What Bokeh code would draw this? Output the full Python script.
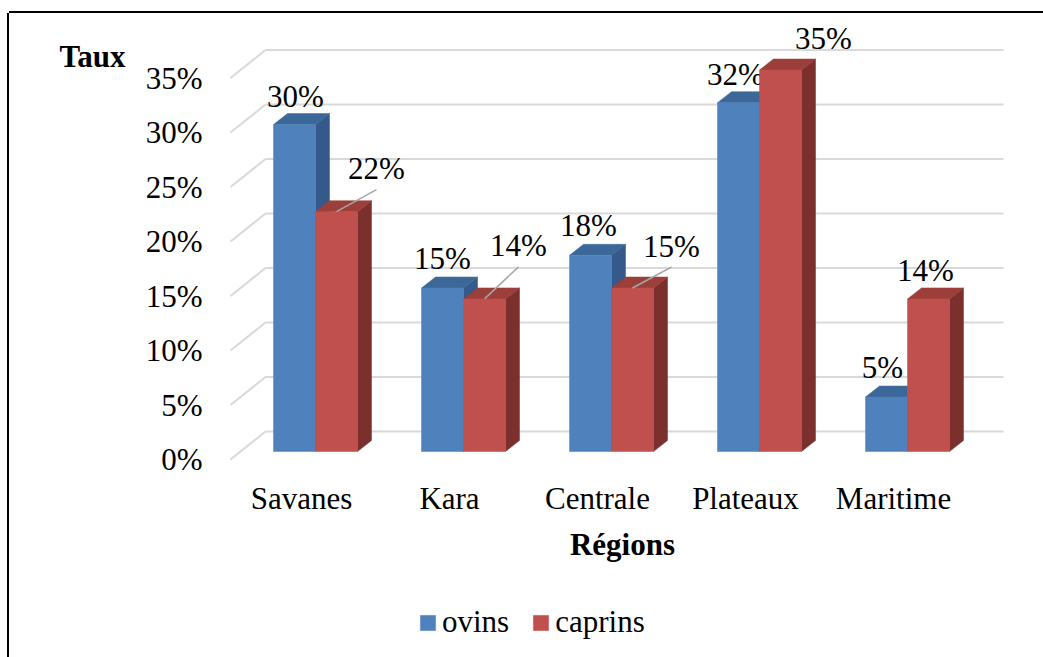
from bokeh.plotting import figure
from bokeh.models import (Range1d, FixedTicker, PrintfTickFormatter, LinearAxis,
                          Legend, LegendItem)
from bokeh.core.properties import value
from bokeh.embed import file_html
from bokeh.resources import INLINE

# ---------------- data ----------------
categories = ["Savanes", "Kara", "Centrale", "Plateaux", "Maritime"]
ovins = [30, 15, 18, 32, 5]
caprins = [22, 14, 15, 35, 14]
y_ticks = [0, 5, 10, 15, 20, 25, 30, 35]
series_names = ["ovins", "caprins"]
y_title = "Taux"
x_title = "Régions"

# ---------------- geometry / style ----------------
PXX = 148.0   # px per category
PXY = 10.9    # px per percent
def hx(px): return px / PXX
def hy(px): return px / PXY

BX, BY = hx(14), hy(8)      # bar plane offset from front plane
DX, DY = hx(14), hy(11)     # bar depth
WX, WY = hx(35), hy(28)     # wall depth
W = hx(42)                  # bar width
WALL_L, WALL_R = hx(230 - 301), hx(1003 - 301)

FONT = "Liberation Serif"
FS = "31px"
GRID = "#D9D9D9"
FRONT = ["#4F81BD", "#C0504D"]
TOP = ["#3C6899", "#9C3F3B"]
SIDE = ["#34598A", "#7B302D"]

# label offsets (pixels), positions only
lbl_dx = [[1, 0, -2, -3, -4], [40, 34, 39, 43, -3]]
lbl_dy = [[-28, -30, -30, -28, -30], [-43, -53, -42, -32, -28]]
leader = [[False] * 5, [True, True, True, False, False]]

TOP_OFF = 13   # page y of canvas top
LEFT_OFF = 9   # page x of canvas left
FRAME_TOP, FRAME_BOT, FRAME_LEFT = 20, 650, 222
p = figure(width=1043 - LEFT_OFF, height=657 - TOP_OFF,
           frame_width=800, frame_height=FRAME_BOT - FRAME_TOP,
           output_backend="svg", toolbar_location=None,
           x_range=Range1d(hx(FRAME_LEFT - 301), hx(1022 - 301)),
           y_range=Range1d(hy(459 - FRAME_BOT), hy(459 - FRAME_TOP)),
           min_border_left=FRAME_LEFT - LEFT_OFF, min_border_right=21,
           min_border_top=FRAME_TOP - TOP_OFF, min_border_bottom=657 - FRAME_BOT)
p.margin = (TOP_OFF, 0, 0, LEFT_OFF)
p.styles = {"box-shadow": "-2px 0 0 0 #000000, 0 -2px 0 0 #000000"}
p.outline_line_color = None
p.xgrid.visible = False
p.ygrid.visible = False
p.background_fill_color = "white"
p.border_fill_color = "white"

# walls
n = len(y_ticks)
p.segment(x0=[WALL_L + WX] * n, y0=[t + WY for t in y_ticks], x1=[WALL_R] * n,
          y1=[t + WY for t in y_ticks], line_color=GRID, line_width=2)
p.segment(x0=[WALL_L] * n, y0=y_ticks, x1=[WALL_L + WX] * n,
          y1=[t + WY for t in y_ticks], line_color=GRID, line_width=2)

front_renderers = []
for k, vals in enumerate([ovins, caprins]):
    lefts = [i + BX - W + k * W for i in range(len(categories))]
    rights = [l + W for l in lefts]
    tops = [v + BY for v in vals]
    side_xs = [[r, r + DX, r + DX, r] for r in rights]
    side_ys = [[BY, BY + DY, t + DY, t] for t in tops]
    p.patches(side_xs, side_ys, fill_color=SIDE[k], line_color=SIDE[k], line_width=0.5)
    top_xs = [[l, r, r + DX, l + DX] for l, r in zip(lefts, rights)]
    top_ys = [[t, t, t + DY, t + DY] for t in tops]
    p.patches(top_xs, top_ys, fill_color=TOP[k], line_color=TOP[k], line_width=0.5)
    fr = p.quad(left=lefts, right=rights, bottom=[BY] * len(vals), top=tops,
                fill_color=FRONT[k], line_color=FRONT[k], line_width=0.5)
    front_renderers.append(fr)

    lx0, ly0, lx1, ly1 = [], [], [], []
    for i in range(len(vals)):
        if leader[k][i]:
            cx = (lefts[i] + rights[i]) / 2
            lx0.append(cx); ly0.append(tops[i])
            lx1.append(cx + hx(lbl_dx[k][i])); ly1.append(tops[i] - hy(lbl_dy[k][i] + 21))
    if lx0:
        p.segment(x0=lx0, y0=ly0, x1=lx1, y1=ly1, line_color="#A6A6A6", line_width=1.5)

    for i in range(len(vals)):
        p.text(x=[(lefts[i] + rights[i]) / 2], y=[tops[i]], text=[f"{vals[i]}%"],
               x_offset=lbl_dx[k][i], y_offset=lbl_dy[k][i],
               text_align="center", text_baseline="middle",
               text_font=value(FONT), text_font_size=FS, text_color="black")

def plain(ax):
    ax.axis_line_color = None
    ax.major_tick_line_color = None
    ax.minor_tick_line_color = None
    ax.major_tick_out = 0
    ax.major_tick_in = 0
    ax.major_label_text_font = FONT
    ax.major_label_text_font_size = FS
    ax.major_label_text_color = "black"

# y axis
p.yaxis.ticker = FixedTicker(ticks=y_ticks)
p.yaxis.formatter = PrintfTickFormatter(format="%d%%")
plain(p.yaxis[0])
p.yaxis.major_label_standoff = 20

# "Taux" as an outer left axis carrying a single label
taux_axis = LinearAxis(ticker=FixedTicker(ticks=[37]), major_label_overrides={37: y_title})
plain(taux_axis)
taux_axis.major_label_text_font_style = "bold"
taux_axis.major_label_standoff = 17
p.add_layout(taux_axis, "left")

# x axis, fixed just under the floor
p.xaxis.fixed_location = hy(459 - 475)
p.xaxis.ticker = FixedTicker(ticks=list(range(len(categories))))
p.xaxis.major_label_overrides = {i: c for i, c in enumerate(categories)}
plain(p.xaxis[0])
p.xaxis.major_label_standoff = 5
p.xaxis.axis_label = x_title
p.xaxis.axis_label_text_font = FONT
p.xaxis.axis_label_text_font_size = FS
p.xaxis.axis_label_text_font_style = "bold"
p.xaxis.axis_label_text_color = "black"
p.xaxis.axis_label_standoff = 8

legend = Legend(items=[LegendItem(label=series_names[k], renderers=[front_renderers[k]])
                       for k in range(2)],
                orientation="horizontal", location=(418 - FRAME_LEFT, 10),
                border_line_color=None,
                label_text_font=FONT, label_text_font_size=FS, label_text_color="black",
                glyph_width=19, glyph_height=19, spacing=22, label_standoff=5,
                padding=0, margin=0, background_fill_alpha=0)
p.add_layout(legend, "center")

open("out.html", "w").write(file_html(p, INLINE))
